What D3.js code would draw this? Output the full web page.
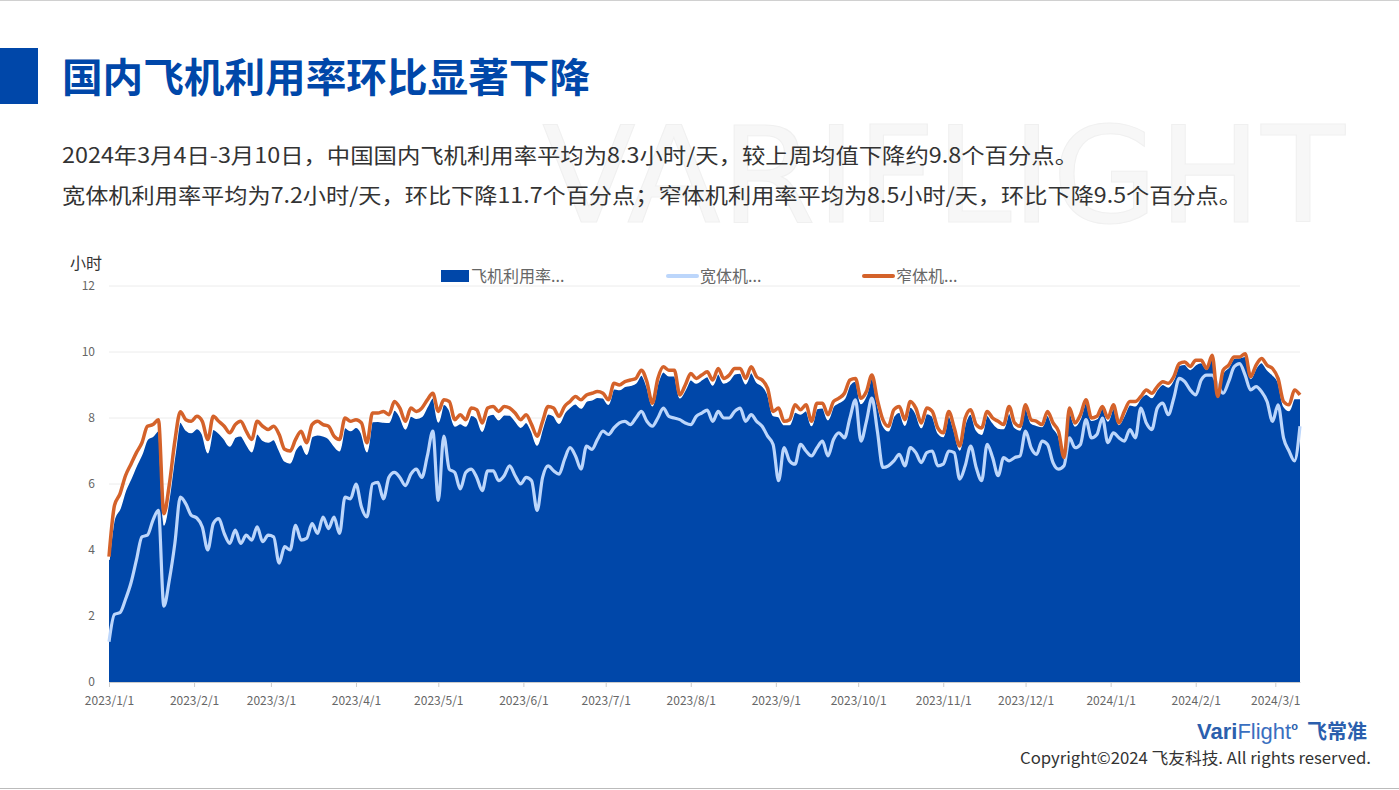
<!DOCTYPE html>
<html>
<head>
<meta charset="utf-8">
<script src="https://cdn.jsdelivr.net/npm/d3@7"></script>
<style>
	html, body { margin: 0; padding: 0; background: #fff; }
	svg { display: block; font-family: "Noto Sans CJK SC", "Noto Sans", sans-serif; }
</style>
</head>
<body>
<svg id="chart" width="1399" height="790"></svg>
<script>
	// series sampled every 2 days from 2023/1/1 to 2024/3/10
	const startDate = new Date(2023, 0, 1);
	const endDate = new Date(2024, 2, 10);
	const stepDays = 2;

	const seriesNames = ["飞机利用率...", "宽体机...", "窄体机..."];
	const yTicks = [0, 2, 4, 6, 8, 10, 12];

	// 飞机利用率 (area)
	const overall = [
		3.7,4.96,5.26,5.80,6.17,6.56,6.91,7.36,7.45,7.62,
		4.76,5.64,6.89,7.88,7.64,7.56,7.68,7.52,6.95,7.66,
		7.55,7.36,7.15,7.42,7.46,7.22,6.98,7.52,7.33,7.27,
		7.35,7.03,6.70,6.64,7.04,7.20,6.90,7.44,7.49,7.46,
		7.38,7.16,7.01,7.71,7.62,7.72,7.54,6.98,7.89,7.90,
		7.88,7.87,8.24,8.05,7.67,8.06,7.99,8.05,8.35,8.61,
		7.88,8.42,8.25,7.76,7.83,7.76,8.08,8.00,7.60,8.07,
		8.12,7.95,8.10,8.09,7.92,7.72,7.87,7.60,7.18,7.70,
		8.13,8.07,7.84,8.16,8.33,8.43,8.30,8.51,8.55,8.63,
		8.61,8.42,8.89,8.86,8.96,8.99,9.06,9.30,8.96,8.37,
		9.06,9.40,9.28,9.28,8.61,8.86,9.16,9.06,9.16,9.26,
		9.00,9.34,9.06,9.14,9.34,9.36,9.04,9.38,9.09,8.98,
		8.73,8.08,8.04,7.80,7.80,8.18,8.12,8.23,7.77,8.29,
		8.31,7.95,8.36,8.47,8.59,9.01,9.12,8.44,8.69,9.22,
		8.44,7.78,7.61,8.06,8.18,7.78,8.33,8.14,7.71,8.14,
		8.06,7.56,7.44,8.06,7.61,7.03,7.83,8.12,7.64,7.51,
		8.08,7.86,7.70,7.68,8.15,7.72,7.64,8.30,7.85,7.78,
		7.74,8.08,7.71,7.46,6.77,8.19,7.76,7.99,8.48,7.93,
		7.98,8.31,7.91,8.30,7.80,8.09,8.40,8.37,8.61,8.73,
		8.62,8.87,9.02,8.94,9.17,9.60,9.63,9.47,9.62,9.68,
		9.48,9.83,8.72,9.37,9.54,9.81,9.83,9.87,9.20,9.52,
		9.68,9.47,9.31,9.10,8.37,8.23,8.59,8.59
	];

	// 宽体机
	const wideBody = [
		1.22,2.05,2.1,2.5,3.0,3.7,4.4,4.45,4.9,5.2,
		2.3,3.1,4.2,5.6,5.4,5.05,4.97,4.7,4.0,4.8,
		4.95,4.5,4.2,4.6,4.2,4.45,4.3,4.7,4.25,4.45,
		4.4,3.6,4.1,4.0,4.75,4.3,4.35,4.8,4.5,5.0,
		4.65,5.0,4.5,5.6,5.55,6.0,5.3,5.0,6.0,6.05,
		5.55,6.2,6.35,6.2,5.95,6.3,6.45,6.2,6.85,7.6,
		5.5,7.45,6.45,6.35,5.85,6.35,6.45,6.2,5.8,6.4,
		6.4,6.1,6.25,6.55,6.25,6.0,6.2,6.1,5.2,6.2,
		6.55,6.4,6.3,6.75,7.1,6.85,6.45,7.15,7.05,7.35,
		7.6,7.5,7.7,7.85,7.9,7.8,8.0,8.2,7.9,7.75,
		8.0,8.3,8.05,8.0,7.95,7.85,7.8,8.05,8.15,8.24,
		7.9,8.2,8.0,8.0,8.2,8.3,7.9,8.1,7.9,7.75,
		7.45,7.2,6.1,7.1,6.7,6.6,7.2,7.0,6.85,7.1,
		7.3,6.85,7.35,7.55,7.4,8.0,8.55,7.3,7.9,8.6,
		7.6,6.5,6.55,6.7,6.9,6.55,7.1,6.95,6.65,6.95,
		7.0,6.55,6.6,7.0,6.95,6.15,6.55,7.15,6.5,6.1,
		7.2,6.8,6.25,6.8,6.7,6.8,6.85,7.6,7.1,6.9,
		7.3,7.2,6.65,6.45,6.55,7.4,7.1,7.2,7.95,7.4,
		7.5,8.0,7.25,7.55,7.4,7.3,7.65,7.4,8.3,7.85,
		7.65,8.3,8.45,8.1,8.6,9.2,9.1,8.85,8.7,9.15,
		9.3,9.3,9.0,8.75,9.1,9.55,9.65,9.3,8.85,8.95,
		8.8,8.5,7.9,8.4,7.4,7.0,6.7,7.75
	];

	// 窄体机
	const narrowBody = [
		3.8,5.35,5.7,6.25,6.6,6.95,7.25,7.75,7.8,7.95,
		5.1,6.0,7.3,8.19,7.95,7.9,8.05,7.9,7.35,8.05,
		7.9,7.75,7.55,7.8,7.9,7.6,7.35,7.9,7.75,7.65,
		7.75,7.5,7.05,7.0,7.35,7.6,7.25,7.8,7.9,7.8,
		7.75,7.45,7.35,8.0,7.9,7.95,7.85,7.25,8.15,8.15,
		8.2,8.1,8.5,8.3,7.9,8.3,8.2,8.3,8.55,8.75,
		8.2,8.55,8.5,7.95,8.1,7.95,8.3,8.25,7.85,8.3,
		8.35,8.2,8.35,8.3,8.15,7.95,8.1,7.8,7.45,7.9,
		8.35,8.3,8.05,8.35,8.5,8.65,8.55,8.7,8.75,8.8,
		8.75,8.55,9.05,9.0,9.1,9.15,9.2,9.45,9.1,8.45,
		9.2,9.55,9.45,9.45,8.7,9.0,9.35,9.2,9.3,9.4,
		9.15,9.5,9.2,9.3,9.5,9.5,9.2,9.55,9.25,9.15,
		8.9,8.2,8.3,7.9,7.95,8.4,8.25,8.4,7.9,8.45,
		8.45,8.1,8.5,8.6,8.75,9.15,9.2,8.6,8.8,9.3,
		8.55,7.95,7.75,8.25,8.35,7.95,8.5,8.3,7.85,8.3,
		8.2,7.7,7.55,8.2,7.7,7.15,8.0,8.25,7.8,7.7,
		8.2,8.0,7.9,7.8,8.35,7.85,7.75,8.4,7.95,7.9,
		7.8,8.2,7.85,7.6,6.8,8.3,7.85,8.1,8.55,8.0,
		8.05,8.35,8.0,8.4,7.85,8.2,8.5,8.5,8.65,8.85,
		8.75,8.95,9.1,9.05,9.25,9.65,9.7,9.56,9.75,9.75,
		9.5,9.9,8.65,9.45,9.6,9.85,9.85,9.95,9.25,9.6,
		9.8,9.6,9.5,9.2,8.5,8.4,8.85,8.7
	];

	const blue = "#0047A9";
	const lightBlue = "#BCD6FB";
	const orange = "#D4622A";

	window.addEventListener("load", init);

	function init() {
		let svg = d3.select("#chart");
		drawHeader(svg);
		drawChart(svg);
		drawFooter(svg);
	}

	function drawHeader(svg) {
		svg.append("line")
			.attr("x1", 0).attr("x2", 1399).attr("y1", 0.5).attr("y2", 0.5)
			.attr("stroke", "#d0d0d0");

		// faint watermark behind the text
		svg.append("text")
			.attr("x", 542)
			.attr("y", 222)
			.attr("textLength", 803)
			.attr("lengthAdjust", "spacingAndGlyphs")
			.style("font-family", "'DejaVu Sans', sans-serif")
			.style("font-size", "134px")
			.style("fill", "#f7f7f7")
			.style("stroke", "#f0f0f0")
			.style("stroke-width", 1)
			.text("VARIFLIGHT");

		svg.append("rect")
			.attr("x", 0).attr("y", 48).attr("width", 38).attr("height", 56)
			.attr("fill", blue);

		svg.append("text")
			.attr("x", 62)
			.attr("y", 92)
			.attr("textLength", 528)
			.attr("lengthAdjust", "spacingAndGlyphs")
			.style("font-size", "40px")
			.style("font-weight", "bold")
			.style("fill", blue)
			.text("国内飞机利用率环比显著下降");

		let lines = [
			"2024年3月4日-3月10日，中国国内飞机利用率平均为8.3小时/天，较上周均值下降约9.8个百分点。",
			"宽体机利用率平均为7.2小时/天，环比下降11.7个百分点；窄体机利用率平均为8.5小时/天，环比下降9.5个百分点。"
		];
		let widths = [1016, 1180];
		lines.forEach(function(t, i) {
			svg.append("text")
				.attr("x", 62)
				.attr("y", 163 + i * 40)
				.attr("textLength", widths[i])
				.attr("lengthAdjust", "spacingAndGlyphs")
				.style("font-size", "21px")
				.style("fill", "#333")
				.text(t);
		});
	}

	function drawChart(svg) {
		let left = 109, right = 1300, top = 286, bottom = 682;

		let dates = overall.map(function(d, i) { return d3.timeDay.offset(startDate, i * stepDays); });

		let x = d3.scaleTime().domain([startDate, endDate]).range([left, right]);
		let y = d3.scaleLinear().domain([0, 12]).range([bottom, top]);

		// grid
		svg.append("g")
			.selectAll("line")
			.data(yTicks.filter(function(d) { return d > 0; }))
			.enter()
			.append("line")
			.attr("x1", left).attr("x2", right)
			.attr("y1", function(d) { return y(d); })
			.attr("y2", function(d) { return y(d); })
			.attr("stroke", "#ececec");

		let yAxis = svg.append("g")
			.attr("transform", "translate(" + left + ",0)")
			.call(d3.axisLeft(y).tickValues(yTicks).tickSize(0).tickPadding(14));
		yAxis.select(".domain").remove();
		yAxis.selectAll("text").style("font-size", "12px").style("fill", "#666")
			.style("font-family", "'Noto Sans CJK SC', sans-serif");

		svg.append("text")
			.attr("x", 70)
			.attr("y", 269)
			.style("font-size", "16px")
			.style("fill", "#333")
			.text("小时");

		let monthTicks = d3.timeMonth.range(startDate, new Date(2024, 2, 2));
		let xAxis = svg.append("g")
			.attr("transform", "translate(0," + bottom + ")")
			.call(d3.axisBottom(x).tickValues(monthTicks).tickFormat(d3.timeFormat("%Y/%-m/%-d")).tickSize(5).tickPadding(9).tickSizeOuter(0));
		xAxis.select(".domain").attr("stroke", "#cccccc");
		xAxis.selectAll(".tick line").attr("stroke", "#cccccc");
		xAxis.selectAll("text").style("font-size", "12px").style("fill", "#666")
			.style("font-family", "'Noto Sans CJK SC', sans-serif");

		let area = d3.area()
			.x(function(d, i) { return x(dates[i]); })
			.y0(y(0))
			.y1(function(d) { return y(d); })
			.curve(d3.curveMonotoneX);

		let line = d3.line()
			.x(function(d, i) { return x(dates[i]); })
			.y(function(d) { return y(d); })
			.curve(d3.curveMonotoneX);

		svg.append("path")
			.datum(overall)
			.attr("d", area)
			.attr("fill", blue);

		svg.append("path")
			.datum(overall)
			.attr("d", line)
			.attr("fill", "none")
			.attr("stroke", "#fff")
			.attr("stroke-width", 1.5);

		svg.append("path")
			.datum(wideBody)
			.attr("d", line)
			.attr("fill", "none")
			.attr("stroke", lightBlue)
			.attr("stroke-width", 3.2)
			.attr("stroke-linejoin", "round");

		svg.append("path")
			.datum(narrowBody)
			.attr("d", line)
			.attr("fill", "none")
			.attr("stroke", orange)
			.attr("stroke-width", 3.5)
			.attr("stroke-linejoin", "round");

		// legend
		let legend = svg.append("g").style("font-size", "16px").style("fill", "#666");
		legend.append("rect")
			.attr("x", 441).attr("y", 270).attr("width", 28).attr("height", 12)
			.attr("fill", blue);
		legend.append("line")
			.attr("x1", 668).attr("x2", 697).attr("y1", 276).attr("y2", 276)
			.attr("stroke", lightBlue).attr("stroke-width", 4).attr("stroke-linecap", "round");
		legend.append("line")
			.attr("x1", 864).attr("x2", 893).attr("y1", 276).attr("y2", 276)
			.attr("stroke", orange).attr("stroke-width", 4).attr("stroke-linecap", "round");
		let legendX = [471, 700, 896];
		seriesNames.forEach(function(n, i) {
			legend.append("text")
				.attr("x", legendX[i])
				.attr("y", 282)
				.text(n);
		});
	}

	function drawFooter(svg) {
		let logo = svg.append("text")
			.attr("x", 1197)
			.attr("y", 739)
			.style("font-family", "'Liberation Sans', sans-serif")
			.style("font-size", "22px")
			.style("fill", "#2B5FAD");
		logo.append("tspan").style("font-weight", "bold").text("Vari");
		logo.append("tspan").style("font-weight", "normal").style("fill", "#3A6FC0").text("Flight");
		logo.append("tspan").attr("dy", -9).style("font-size", "11px").style("font-weight", "bold").text("o");

		svg.append("text")
			.attr("x", 1367)
			.attr("y", 739)
			.attr("text-anchor", "end")
			.style("font-size", "20px")
			.style("font-weight", "bold")
			.style("fill", "#2B5FAD")
			.text("飞常准");

		svg.append("text")
			.attr("x", 1020)
			.attr("y", 764)
			.attr("textLength", 351)
			.attr("lengthAdjust", "spacingAndGlyphs")
			.style("font-size", "16px")
			.style("fill", "#333")
			.text("Copyright©2024 飞友科技. All rights reserved.");

		svg.append("line")
			.attr("x1", 0).attr("x2", 1399).attr("y1", 788.5).attr("y2", 788.5)
			.attr("stroke", "#bbbbbb");
	}
</script>
</body>
</html>
